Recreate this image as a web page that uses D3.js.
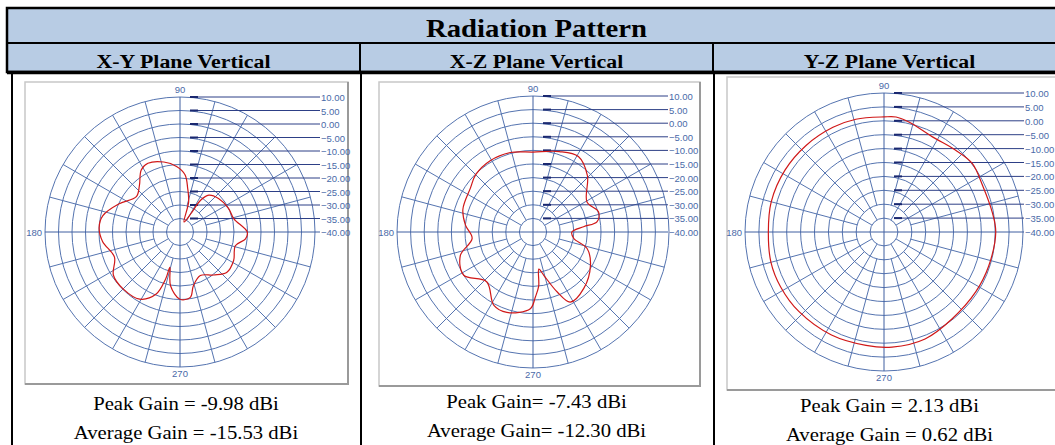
<!DOCTYPE html>
<meta charset="utf-8">
<head>
  <title>Radiation Pattern</title>
</head>
<style>
  body { margin: 0; background: #fff; }
  .hdr { font-family: "Liberation Serif", "Times New Roman", serif; font-weight: bold; fill: #000; }
  .gain { font-family: "Liberation Serif", "Times New Roman", serif; fill: #000; }
  .plab { font-family: "Liberation Sans", Arial, sans-serif; font-size: 9.5px; fill: #4a6aa8; }
</style>
<body>
<script src="https://d3js.org/d3.v7.min.js"></script>
<script>
var width = 1055, height = 445;

// ---- texts ----
var tableTitle = "Radiation Pattern";
var planeNames = ["X-Y Plane Vertical", "X-Z Plane Vertical", "Y-Z Plane Vertical"];
var peakText = ["Peak Gain = -9.98 dBi", "Peak Gain= -7.43 dBi", "Peak Gain = 2.13 dBi"];
var avgText = ["Average Gain = -15.53 dBi", "Average Gain= -12.30 dBi", "Average Gain = 0.62 dBi"];

// ---- polar grid values ----
var dbTicks = [10, 5, 0, -5, -10, -15, -20, -25, -30, -35, -40];
var angleLabels = [90, 180, 270];

// ---- traces: angle in degrees (ccw from 0), gain in dB ----
var xyAngle = [0, 14, 26, 41, 52, 57, 59, 68, 74, 80, 85, 93, 103, 115, 122, 131, 141, 155, 168, 177,
               187, 201, 213, 225, 239, 249, 253, 254, 260, 270, 279, 284, 295, 308, 319, 332, 346, 354];
var xyGain  = [-15.1, -19.5, -20, -21.1, -22.7, -26, -31.5, -36, -28.4, -23.6, -18.7, -15.7, -13.4, -11.9, -12.9, -17.1, -19.2, -15.2, -10.8, -10.0,
               -11.1, -14, -10.6, -10.2, -11, -15.4, -21.8, -26.4, -19.8, -15.1, -15.5, -19.5, -22.2, -19.8, -17.1, -17.5, -18.9, -15.6];

var xzAngle = [0, 6, 9, 17, 29, 46, 59, 72, 90, 106, 121, 135, 145, 162, 174, 186, 198, 212, 227, 242,
               252, 268, 272, 276, 279, 284, 292, 298, 312, 330, 343, 351];
var xzGain  = [-25.7, -21.3, -16.2, -14.8, -17.3, -11.2, -7.6, -8.9, -10.6, -9.6, -9.4, -10.2, -11.9, -12.9, -15, -17.5, -11.9, -10, -15, -9.4,
               -8.9, -11.8, -16, -20, -26.2, -23.6, -16.2, -10.8, -12.1, -15.6, -19.2, -24.8];

var yzAngle = [0, 10, 25, 38, 49, 63, 77, 84, 90, 104, 116, 132, 148, 165, 180, 195, 208, 223, 243, 261,
               274, 291, 308, 327, 342];
var yzGain  = [0.2, -0.4, -0.8, 0.2, -0.9, -1.6, 0.5, 1.6, 1.4, 1.8, 1.9, 1.9, 2.0, 2.0, 1.6, 2.1, 2.1, 1.9, 1.6, 1.3,
               1.5, 1.2, -0.3, -0.6, -0.4];

var traces = [
  {angle: xyAngle, gain: xyGain},
  {angle: xzAngle, gain: xzGain},
  {angle: yzAngle, gain: yzGain}
];

// ---- layout ----
var colX = [7, 360, 713, 1066];
var panels = [
  {fx: 25, fy: 82, fw: 323, fh: 302, cx: 180, cy: 232, R: 135, lx: 140},
  {fx: 379, fy: 82, fw: 321, fh: 304, cx: 533, cy: 232, R: 136, lx: 135},
  {fx: 727, fy: 77, fw: 345, fh: 313, cx: 884, cy: 232, R: 139, lx: 140}
];
var gainY = [[410, 439], [408, 437], [412, 441]];
var textStretch = 1.15;

var svg = d3.select("body").append("svg")
    .attr("width", width)
    .attr("height", height);

// ---- polar panels ----
panels.forEach(function(p, i) {
  var g = svg.append("g");

  // image frame
  g.append("rect")
      .attr("x", p.fx).attr("y", p.fy)
      .attr("width", p.fw).attr("height", p.fh)
      .attr("fill", "#fff")
      .attr("stroke", "#c8c8c8")
      .attr("stroke-width", 1.5);
  g.append("path")
      .attr("d", "M" + (p.fx + p.fw) + "," + p.fy + "V" + (p.fy + p.fh) + "H" + p.fx)
      .attr("fill", "none")
      .attr("stroke", "#9a9a9a")
      .attr("stroke-width", 2);

  var r = d3.scaleLinear().domain([-40, 10]).range([0, p.R]);
  var plot = g.append("g").attr("transform", "translate(" + p.cx + "," + p.cy + ")");
  var labelX = p.lx;

  // rings
  plot.selectAll(".ring")
      .data(dbTicks.filter(function(d) { return d > -40; }))
    .enter().append("circle")
      .attr("r", function(d) { return r(d); })
      .attr("fill", "none")
      .attr("stroke", "#5574b0")
      .attr("stroke-width", 1);

  // spokes every 15 degrees
  var spokes = d3.range(0, 360, 15).filter(function(a) { return a % 90 !== 0; });
  plot.selectAll(".spoke")
      .data(spokes)
    .enter().append("line")
      .attr("x1", function(a) { return Math.cos(a * Math.PI / 180) * r(a % 30 === 0 ? -35 : -30); })
      .attr("y1", function(a) { return -Math.sin(a * Math.PI / 180) * r(a % 30 === 0 ? -35 : -30); })
      .attr("x2", function(a) { return Math.cos(a * Math.PI / 180) * r(10); })
      .attr("y2", function(a) { return -Math.sin(a * Math.PI / 180) * r(10); })
      .attr("stroke", "#5574b0")
      .attr("stroke-width", 1);

  // main axes
  plot.append("line").attr("x1", 0).attr("x2", 0).attr("y1", -r(10)).attr("y2", r(10))
      .attr("stroke", "#3f5ea0").attr("stroke-width", 1);
  plot.append("line").attr("x1", -r(10)).attr("x2", labelX).attr("y1", 0).attr("y2", 0)
      .attr("stroke", "#3f5ea0").attr("stroke-width", 1);

  // scale leader lines and labels
  var levels = dbTicks.filter(function(d) { return d > -40; });
  plot.selectAll(".lead")
      .data(levels)
    .enter().append("line")
      .attr("x1", 10).attr("x2", labelX)
      .attr("y1", function(d) { return -r(d); })
      .attr("y2", function(d) { return -r(d); })
      .attr("stroke", "#2d3f86")
      .attr("stroke-width", 1);
  plot.selectAll(".tick")
      .data(levels)
    .enter().append("line")
      .attr("x1", 10).attr("x2", 18)
      .attr("y1", function(d) { return -r(d); })
      .attr("y2", function(d) { return -r(d); })
      .attr("stroke", "#1a2870")
      .attr("stroke-width", 2);
  plot.selectAll(".dblab")
      .data(dbTicks)
    .enter().append("text")
      .attr("class", "plab")
      .attr("x", labelX + 1)
      .attr("y", function(d) { return -r(d) + 4; })
      .text(function(d) { return d3.format(".2f")(d); });

  // angle labels
  plot.append("text").attr("class", "plab").attr("text-anchor", "middle")
      .attr("x", 0).attr("y", -r(10) - 4).text(angleLabels[0]);
  plot.append("text").attr("class", "plab").attr("text-anchor", "end")
      .attr("x", -r(10) - 3).attr("y", 4).text(angleLabels[1]);
  plot.append("text").attr("class", "plab").attr("text-anchor", "middle")
      .attr("x", 0).attr("y", r(10) + 10).text(angleLabels[2]);

  // trace
  var t = traces[i];
  var pts = t.angle.map(function(a, k) { return [(90 - a) * Math.PI / 180, r(t.gain[k])]; });
  var line = d3.lineRadial()
      .angle(function(d) { return d[0]; })
      .radius(function(d) { return d[1]; })
      .curve(d3.curveCatmullRomClosed.alpha(0.5));
  plot.append("path")
      .attr("d", line(pts))
      .attr("fill", "none")
      .attr("stroke", "#d01818")
      .attr("stroke-width", 1.2);
});

// ---- table ----
var tbl = svg.append("g");
tbl.append("rect").attr("x", colX[0]).attr("y", 8).attr("width", colX[3] - colX[0]).attr("height", 64)
    .attr("fill", "#b8cce4").attr("stroke", "#000").attr("stroke-width", 2.5);
tbl.append("line").attr("x1", colX[0]).attr("x2", colX[3]).attr("y1", 43).attr("y2", 43)
    .attr("stroke", "#000").attr("stroke-width", 2);
tbl.append("line").attr("x1", colX[0]).attr("x2", colX[3]).attr("y1", 72.5).attr("y2", 72.5)
    .attr("stroke", "#000").attr("stroke-width", 3.5);
[colX[1], colX[2]].forEach(function(x) {
  tbl.append("line").attr("x1", x).attr("x2", x).attr("y1", 43).attr("y2", 72)
      .attr("stroke", "#000").attr("stroke-width", 2);
  tbl.append("line").attr("x1", x + 1).attr("x2", x + 1).attr("y1", 72).attr("y2", height)
      .attr("stroke", "#000").attr("stroke-width", 2);
});
tbl.append("line").attr("x1", 12).attr("x2", 12).attr("y1", 72).attr("y2", height)
    .attr("stroke", "#000").attr("stroke-width", 2);

function stretchedText(txt, x, y, cls, size) {
  svg.append("text")
      .attr("class", cls)
      .attr("transform", "translate(" + x + "," + y + ") scale(" + textStretch + ",1)")
      .attr("text-anchor", "middle")
      .style("font-size", size + "px")
      .text(txt);
}

stretchedText(tableTitle, (colX[0] + colX[3]) / 2, 37, "hdr", 25);
planeNames.forEach(function(n, i) {
  stretchedText(n, (colX[i] + colX[i + 1]) / 2, 68, "hdr", 19);
});
peakText.forEach(function(s, i) {
  var cx = (Math.max(colX[i], 12) + colX[i + 1]) / 2;
  stretchedText(s, cx, gainY[i][0], "gain", 18);
  stretchedText(avgText[i], cx, gainY[i][1], "gain", 18);
});
</script>
</body>
